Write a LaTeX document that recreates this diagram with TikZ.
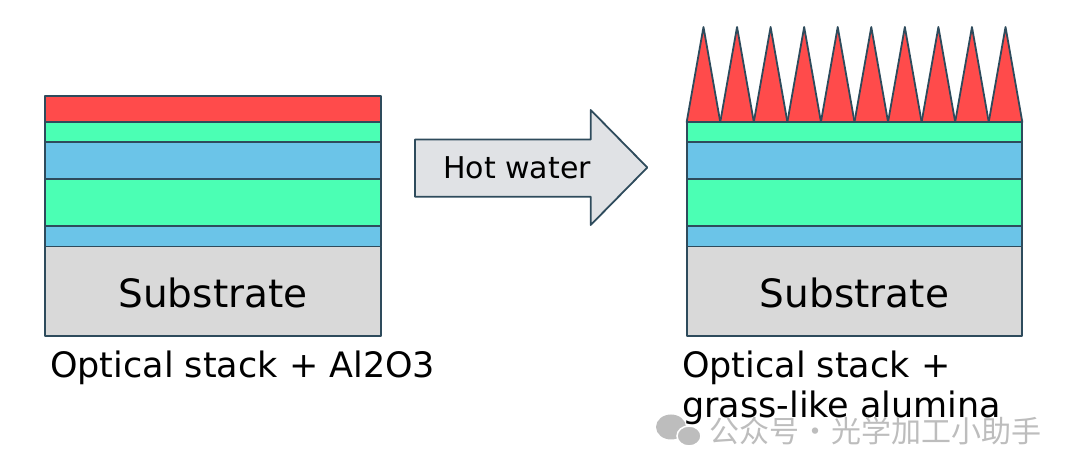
\documentclass[tikz,border=0pt]{standalone}
\usepackage{fontspec}
\setmainfont{DejaVu Sans}
\newfontfamily\cjk{Noto Sans CJK SC}
\definecolor{edge}{HTML}{2E4B5C}
\definecolor{redl}{HTML}{FF4B4B}
\definecolor{greenl}{HTML}{4BFFB4}
\definecolor{bluel}{HTML}{6BC4E8}
\definecolor{subst}{HTML}{D9D9D9}
\definecolor{arrowfill}{HTML}{E0E2E5}
\definecolor{wm}{HTML}{BDBDBD}
\begin{document}
\begin{tikzpicture}[x=1pt,y=-1pt,
  layerbox/.style={draw=edge, line width=1.8pt, line join=round},
  bigtext/.style={font=\fontsize{39}{46}\selectfont, text=black, inner sep=0pt},
  captext/.style={font=\fontsize{35}{42}\selectfont, text=black, inner sep=0pt, anchor=base west},
  arrowtext/.style={font=\fontsize{30}{36}\selectfont, text=black, inner sep=0pt, anchor=base}]
\useasboundingbox (0,0) rectangle (1080,470);
% ---------- both stacks ----------
\foreach \xa/\xb/\tag in {45/381/L, 686.7/1022.3/R}{
  \path[layerbox, fill=subst] (\xa,246.5) rectangle (\xb,336);
  \path[layerbox, fill=bluel] (\xa,226) rectangle (\xb,246.5);
  \path[layerbox, fill=greenl] (\xa,179) rectangle (\xb,226);
  \path[layerbox, fill=bluel] (\xa,142.3) rectangle (\xb,179);
  \path[layerbox, fill=greenl] (\xa,122) rectangle (\xb,142.3);
}
\path[layerbox, fill=redl] (45,96) rectangle (381,122);
% spikes on the right stack
\foreach \i in {0,...,9}{
  \pgfmathsetmacro{\xl}{686.7+33.56*\i}
  \pgfmathsetmacro{\xr}{686.7+33.56*(\i+1)}
  \pgfmathsetmacro{\xm}{686.7+33.56*(\i+0.5)}
  \path[layerbox, fill=redl] (\xl,122) -- (\xm,27) -- (\xr,122) -- cycle;
}
% labels
\node[bigtext, anchor=base] (subL) at (213,308) {Substrate};
\node[bigtext, anchor=base] (subR) at (854.5,308) {Substrate};
\node[captext] (capL) at (50,378) {Optical stack + Al2O3};
\node[captext] (capR1) at (682,378) {Optical stack +};
\node[captext] (capR2) at (682,418) {grass-like alumina};
% arrow
\path[layerbox, fill=arrowfill] (415,139.5) -- (590.7,139.5) -- (590.7,110) -- (647.3,167.5)
  -- (590.7,225) -- (590.7,196.7) -- (415,196.7) -- cycle;
\node[arrowtext] (hot) at (517,179) {Hot water};
% watermark
\fill[wm] (671,427) ellipse (15 and 12.5);
\fill[wm, draw=white, line width=1.5pt] (689,436) ellipse (12 and 10);
\node[font=\cjk\fontsize{30}{34}\selectfont, text=wm, anchor=west, inner sep=0pt] (wmark) at (709,431) {公众号\makebox[32pt]{·}光学加工小助手};
\end{tikzpicture}
\end{document}
